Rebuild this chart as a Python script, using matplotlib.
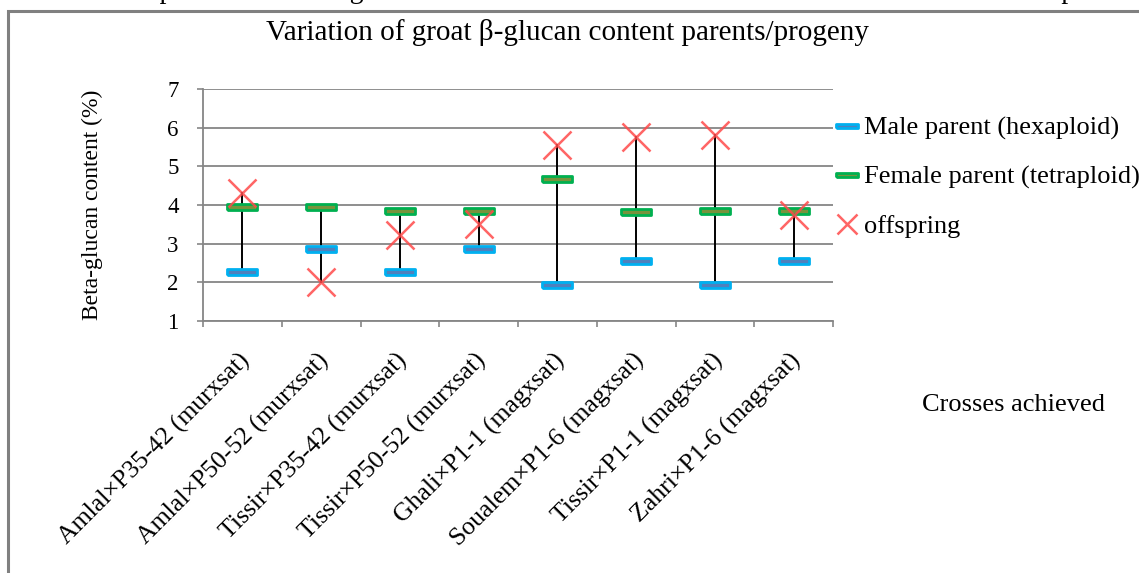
import matplotlib.pyplot as plt
from matplotlib.patches import Rectangle

plt.rcParams['font.family'] = ['Liberation Serif', 'DejaVu Serif']

crosses = [
    "Amlal\u00d7P35-42 (murxsat)",
    "Amlal\u00d7P50-52 (murxsat)",
    "Tissir\u00d7P35-42 (murxsat)",
    "Tissir\u00d7P50-52 (murxsat)",
    "Ghali\u00d7P1-1 (magxsat)",
    "Soualem\u00d7P1-6 (magxsat)",
    "Tissir\u00d7P1-1 (magxsat)",
    "Zahri\u00d7P1-6 (magxsat)",
]
male = [2.27, 2.86, 2.27, 2.86, 1.94, 2.56, 1.94, 2.56]
female = [3.96, 3.96, 3.84, 3.84, 4.67, 3.82, 3.84, 3.84]
offspring = [4.31, 2.02, 3.23, 3.52, 5.56, 5.76, 5.81, 3.74]

fig = plt.figure(figsize=(11.39, 5.73), dpi=100)

# page text cut at top and the grey frame of the chart
fig.text(0.0, 1.014, "erefore develop new lines with good nutritive value which can be conceived for human consumption.",
         fontsize=20, ha='left', va='center')
fig.patches.append(Rectangle((8 / 1139, -0.1), 1.2, 1.1 - 11 / 573,
                             transform=fig.transFigure, fill=False,
                             edgecolor='#808080', linewidth=2.2))

ax = fig.add_axes([203 / 1139, 1 - 321 / 573, 630 / 1139, 232 / 573])
x = list(range(len(crosses)))

# high-low lines
for i in x:
    vals = [male[i], female[i], offspring[i]]
    ax.plot([i, i], [min(vals), max(vals)], color='black', linewidth=1.4, zorder=2)

bar = [(-1, -0.21), (1, -0.21), (1, 0.21), (-1, 0.21), (-1, -0.21)]
ax.plot(x, male, linestyle='none', marker=bar, markersize=21,
        markerfacecolor='#4F81BD', markeredgecolor='#00B0F0', markeredgewidth=2,
        label='Male parent (hexaploid)', zorder=3)
ax.plot(x, female, linestyle='none', marker=bar, markersize=21,
        markerfacecolor='#77933C', markeredgecolor='#00B050', markeredgewidth=2,
        label='Female parent (tetraploid)', zorder=3)
ax.plot(x, offspring, linestyle='none', marker='x', markersize=20,
        markeredgecolor='#FF4A4A', markeredgewidth=1.8, alpha=0.85,
        label='offspring', zorder=4)

ax.set_xlim(-0.5, len(crosses) - 0.5)
ax.set_ylim(1, 7)
ax.set_yticks(range(1, 8))
ax.set_yticklabels([str(v) for v in range(1, 8)], fontsize=16.5)
ax.set_xticks([i - 0.5 for i in range(len(crosses) + 1)])
ax.set_xticklabels([])
ax.tick_params(axis='both', color='#868686', length=4.5, width=1.2)
ax.tick_params(axis='y', pad=13)
ax.grid(axis='y', color='#868686', linewidth=1.3)
ax.set_axisbelow(True)
for s in ['top', 'right']:
    ax.spines[s].set_visible(False)
for s in ['left', 'bottom']:
    ax.spines[s].set_color('#868686')
    ax.spines[s].set_linewidth(1.3)

for i, name in enumerate(crosses):
    ax.annotate(name, xy=(i, 1), xycoords='data', xytext=(3, -26),
                textcoords='offset points', rotation=45, rotation_mode='anchor',
                ha='right', va='center', fontsize=18.5)

ax.set_ylabel("Beta-glucan content (%)", fontsize=17)
ax.yaxis.set_label_coords(-0.158, 0.5)

fig.text(567 / 1139, 1 - 33 / 573, "Variation of groat \u03b2-glucan content parents/progeny",
         fontsize=21, ha='center', va='center')
fig.text(1013 / 1139, 1 - 405 / 573, "Crosses achieved", fontsize=19,
         ha='center', va='center')

fig.legend(loc='upper left', bbox_to_anchor=(826 / 1139, 1 - 106 / 573),
           frameon=False, fontsize=19, handlelength=0.8, handletextpad=0.25,
           labelspacing=0.95, borderaxespad=0, markerscale=0.75)

fig.savefig("out.png", dpi=100)
